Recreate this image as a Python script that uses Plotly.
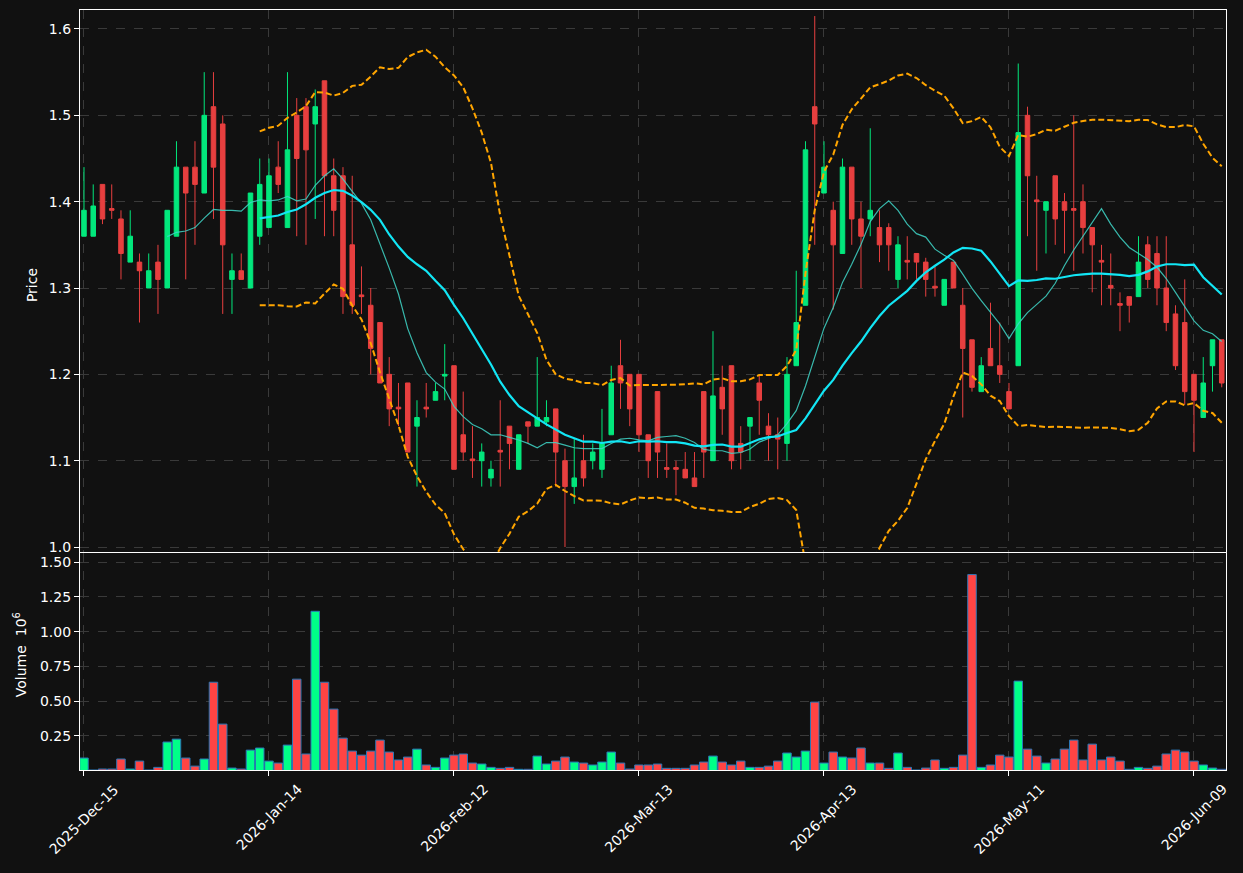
import pandas as pd
import plotly.graph_objects as go

# ---------------- data ----------------
holidays = ["2025-12-25", "2026-01-01", "2026-01-19", "2026-02-16", "2026-04-03", "2026-05-25"]
start_date = "2025-12-15"
n_days = 124

opens = [1.36, 1.36, 1.42, 1.392, 1.38, 1.33, 1.33, 1.30, 1.33, 1.30,
         1.36, 1.44, 1.44, 1.41, 1.51, 1.49, 1.31, 1.32, 1.30, 1.36,
         1.37, 1.44, 1.37, 1.50, 1.51, 1.49, 1.54, 1.43, 1.43, 1.35,
         1.292, 1.28, 1.26, 1.20, 1.162, 1.19, 1.14, 1.162, 1.17, 1.198,
         1.21, 1.13, 1.102, 1.10, 1.08, 1.112, 1.14, 1.09, 1.145, 1.14,
         1.145, 1.16, 1.10, 1.07, 1.10, 1.10, 1.09, 1.13, 1.21, 1.20,
         1.20, 1.13, 1.18, 1.092, 1.092, 1.09, 1.08, 1.18, 1.10, 1.185,
         1.21, 1.12, 1.14, 1.19, 1.14, 1.13, 1.12, 1.21, 1.28, 1.51,
         1.41, 1.39, 1.34, 1.44, 1.38, 1.38, 1.37, 1.37, 1.31, 1.332,
         1.34, 1.33, 1.302, 1.28, 1.33, 1.28, 1.24, 1.18, 1.23, 1.21,
         1.18, 1.21, 1.50, 1.402, 1.39, 1.43, 1.40, 1.392, 1.40, 1.37,
         1.332, 1.303, 1.282, 1.29, 1.29, 1.35, 1.34, 1.30, 1.27, 1.26,
         1.20, 1.15, 1.21, 1.24]
highs = [1.44, 1.42, 1.42, 1.42, 1.39, 1.39, 1.34, 1.34, 1.35, 1.39,
         1.47, 1.44, 1.47, 1.55, 1.55, 1.50, 1.34, 1.34, 1.41, 1.45,
         1.45, 1.47, 1.55, 1.52, 1.52, 1.53, 1.54, 1.45, 1.44, 1.43,
         1.325, 1.30, 1.26, 1.22, 1.19, 1.19, 1.17, 1.19, 1.19, 1.235,
         1.21, 1.18, 1.14, 1.12, 1.10, 1.17, 1.14, 1.13, 1.145, 1.22,
         1.17, 1.16, 1.114, 1.125, 1.13, 1.12, 1.16, 1.21, 1.24, 1.20,
         1.20, 1.13, 1.18, 1.12, 1.10, 1.11, 1.11, 1.18, 1.25, 1.21,
         1.21, 1.14, 1.15, 1.20, 1.155, 1.15, 1.22, 1.32, 1.47, 1.615,
         1.47, 1.40, 1.45, 1.44, 1.40, 1.485, 1.39, 1.375, 1.36, 1.36,
         1.34, 1.335, 1.325, 1.31, 1.33, 1.30, 1.24, 1.22, 1.283, 1.26,
         1.19, 1.56, 1.51, 1.43, 1.40, 1.43, 1.41, 1.50, 1.42, 1.37,
         1.35, 1.34, 1.295, 1.29, 1.36, 1.36, 1.36, 1.36, 1.28, 1.31,
         1.20, 1.22, 1.24, 1.24]
lows = [1.36, 1.36, 1.374, 1.38, 1.31, 1.33, 1.26, 1.30, 1.27, 1.30,
        1.36, 1.31, 1.35, 1.41, 1.38, 1.27, 1.27, 1.31, 1.30, 1.35,
        1.37, 1.41, 1.37, 1.36, 1.35, 1.38, 1.36, 1.36, 1.27, 1.27,
        1.27, 1.20, 1.19, 1.14, 1.14, 1.11, 1.07, 1.15, 1.17, 1.17,
        1.09, 1.10, 1.08, 1.07, 1.07, 1.07, 1.09, 1.09, 1.12, 1.14,
        1.14, 1.07, 1.00, 1.05, 1.07, 1.09, 1.08, 1.13, 1.16, 1.14,
        1.11, 1.08, 1.08, 1.08, 1.06, 1.08, 1.07, 1.08, 1.10, 1.13,
        1.09, 1.09, 1.10, 1.13, 1.10, 1.09, 1.10, 1.21, 1.28, 1.35,
        1.41, 1.275, 1.34, 1.35, 1.30, 1.36, 1.33, 1.32, 1.30, 1.31,
        1.31, 1.29, 1.29, 1.28, 1.30, 1.15, 1.18, 1.18, 1.21, 1.19,
        1.16, 1.21, 1.36, 1.32, 1.34, 1.35, 1.34, 1.32, 1.34, 1.295,
        1.28, 1.28, 1.25, 1.26, 1.29, 1.30, 1.28, 1.25, 1.205, 1.165,
        1.11, 1.15, 1.18, 1.185]
closes = [1.39, 1.395, 1.38, 1.39, 1.34, 1.36, 1.32, 1.32, 1.31, 1.39,
          1.44, 1.41, 1.42, 1.50, 1.44, 1.35, 1.32, 1.31, 1.41, 1.42,
          1.43, 1.42, 1.46, 1.45, 1.46, 1.51, 1.43, 1.39, 1.29, 1.28,
          1.29, 1.23, 1.19, 1.16, 1.16, 1.11, 1.15, 1.16, 1.18, 1.20,
          1.09, 1.11, 1.10, 1.11, 1.09, 1.11, 1.12, 1.13, 1.14, 1.15,
          1.15, 1.11, 1.07, 1.08, 1.08, 1.11, 1.12, 1.19, 1.19, 1.16,
          1.13, 1.10, 1.11, 1.09, 1.09, 1.08, 1.07, 1.11, 1.175, 1.16,
          1.10, 1.11, 1.15, 1.17, 1.13, 1.125, 1.20, 1.26, 1.46, 1.49,
          1.44, 1.35, 1.44, 1.38, 1.36, 1.39, 1.35, 1.35, 1.35, 1.33,
          1.33, 1.31, 1.30, 1.31, 1.30, 1.23, 1.185, 1.21, 1.21, 1.20,
          1.16, 1.48, 1.43, 1.40, 1.40, 1.38, 1.39, 1.39, 1.37, 1.35,
          1.33, 1.30, 1.28, 1.28, 1.33, 1.31, 1.30, 1.26, 1.21, 1.18,
          1.17, 1.19, 1.24, 1.19]
volumes_m = [0.091, 0.005, 0.012, 0.012, 0.084, 0.012, 0.069, 0.005, 0.024, 0.206,
             0.227, 0.091, 0.033, 0.084, 0.636, 0.335, 0.019, 0.012, 0.148, 0.163,
             0.069, 0.055, 0.184, 0.658, 0.120, 1.146, 0.636, 0.443, 0.234, 0.141,
             0.112, 0.141, 0.220, 0.134, 0.077, 0.098, 0.155, 0.041, 0.024, 0.091,
             0.112, 0.120, 0.055, 0.048, 0.024, 0.017, 0.024, 0.010, 0.010, 0.105,
             0.048, 0.069, 0.098, 0.062, 0.055, 0.041, 0.062, 0.134, 0.055, 0.012,
             0.041, 0.041, 0.048, 0.017, 0.017, 0.017, 0.041, 0.062, 0.105, 0.062,
             0.041, 0.069, 0.024, 0.024, 0.033, 0.069, 0.127, 0.098, 0.141, 0.493,
             0.055, 0.134, 0.098, 0.091, 0.163, 0.055, 0.055, 0.017, 0.127, 0.024,
             0.005, 0.019, 0.077, 0.017, 0.024, 0.112, 1.410, 0.024, 0.041, 0.112,
             0.098, 0.644, 0.155, 0.105, 0.055, 0.084, 0.155, 0.220, 0.077, 0.191,
             0.077, 0.098, 0.069, 0.010, 0.024, 0.017, 0.033, 0.120, 0.148, 0.134,
             0.069, 0.041, 0.019, 0.010]

price_ticks = [1.0, 1.1, 1.2, 1.3, 1.4, 1.5, 1.6]
volume_ticks = [0.25, 0.50, 0.75, 1.00, 1.25, 1.50]
tick_every = 20

# ---------------- derived ----------------
cbd = pd.offsets.CustomBusinessDay(holidays=holidays)
dates = pd.date_range(start_date, periods=n_days, freq=cbd)
cats = [d.strftime("%Y-%m-%d") for d in dates]
tick_vals = cats[::tick_every]
tick_text = [d.strftime("%Y-%b-%d") for d in dates[::tick_every]]

close_s = pd.Series(closes)
ma10 = close_s.rolling(10).mean()
ma20 = close_s.rolling(20).mean()
sd20 = close_s.rolling(20).std(ddof=0)
bb_up = ma20 + 2 * sd20
bb_lo = ma20 - 2 * sd20

UP_C = "#02e77c"
DN_C = "#e73f3f"
VUP = "#00ff88"
VDN = "#ff4444"
vol_colors = [VUP if c >= o else VDN for o, c in zip(opens, closes)]

fig = go.Figure()
fig.add_trace(go.Candlestick(
    x=cats, open=opens, high=highs, low=lows, close=closes,
    increasing=dict(line=dict(color=UP_C, width=1), fillcolor=UP_C),
    decreasing=dict(line=dict(color=DN_C, width=1), fillcolor=DN_C),
    xaxis="x", yaxis="y", hoverinfo="skip", whiskerwidth=0,
))
fig.add_trace(go.Scatter(x=cats, y=bb_up, mode="lines",
                         line=dict(color="#ffa500", width=2, dash="6px,3px"),
                         xaxis="x", yaxis="y", hoverinfo="skip"))
fig.add_trace(go.Scatter(x=cats, y=bb_lo, mode="lines",
                         line=dict(color="#ffa500", width=2, dash="6px,3px"),
                         xaxis="x", yaxis="y", hoverinfo="skip"))
fig.add_trace(go.Scatter(x=cats, y=ma10, mode="lines",
                         line=dict(color="rgba(64,214,200,0.85)", width=1.2),
                         xaxis="x", yaxis="y", hoverinfo="skip"))
fig.add_trace(go.Scatter(x=cats, y=ma20, mode="lines",
                         line=dict(color="#12e6f5", width=2.2),
                         xaxis="x", yaxis="y", hoverinfo="skip"))
fig.add_trace(go.Bar(x=cats, y=volumes_m,
                     marker=dict(color=vol_colors, line=dict(color="#2a78b8", width=1)),
                     xaxis="x2", yaxis="y2", hoverinfo="skip"))

BG = "#111111"
GRID = "#3a3a3a"
FONT = dict(family="DejaVu Sans", size=14, color="white")

common_x = dict(type="category", range=[-0.43, 123.46], tickvals=tick_vals,
                showgrid=True, gridcolor=GRID, griddash="dash", gridwidth=1,
                showline=True, linecolor="white", linewidth=1.2, mirror=True,
                zeroline=False)

# rotated date labels, centred under each tick (matplotlib style)
date_labels = [
    dict(text=t, x=v, xref="x2", y=0, yref="paper", yshift=-8,
         textangle=-45, showarrow=False, font=FONT,
         xanchor="center", yanchor="top")
    for v, t in zip(tick_vals, tick_text)
]

fig.update_layout(
    width=1243, height=873,
    paper_bgcolor=BG, plot_bgcolor=BG,
    margin=dict(l=80, r=17, t=10, b=103),
    showlegend=False, hovermode=False,
    font=FONT, bargap=0.08,
    xaxis=dict(**common_x, anchor="y", domain=[0, 1], showticklabels=False,
               ticks="", rangeslider=dict(visible=False)),
    xaxis2=dict(**common_x, anchor="y2", domain=[0, 1], matches="x",
                showticklabels=False, ticks="outside",
                ticklen=5, tickcolor="white"),
    yaxis=dict(domain=[0.2868, 1], range=[0.9942, 1.622], tickvals=price_ticks,
               tickformat=".1f", showgrid=True, gridcolor=GRID, griddash="dash",
               showline=True, linecolor="white", linewidth=1.2, mirror=True,
               ticks="outside", ticklen=5, tickcolor="white", zeroline=False,
               tickfont=FONT),
    yaxis2=dict(domain=[0, 0.2855], range=[0.005, 1.565], tickvals=volume_ticks,
                tickformat=".2f", showgrid=True, gridcolor=GRID, griddash="dash",
                showline=True, linecolor="white", linewidth=1.2, mirror=True,
                ticks="outside", ticklen=5, tickcolor="white", zeroline=False,
                tickfont=FONT),
    annotations=[
        dict(text="Price", xref="paper", yref="paper", x=0, y=0.638,
             xshift=-48, textangle=-90, showarrow=False, font=FONT,
             xanchor="center", yanchor="middle"),
        dict(text="Volume  10<sup>6</sup>", xref="paper", yref="paper", x=0, y=0.151,
             xshift=-60, textangle=-90, showarrow=False, font=FONT,
             xanchor="center", yanchor="middle"),
    ] + date_labels,
)

fig.write_html("out.html")
